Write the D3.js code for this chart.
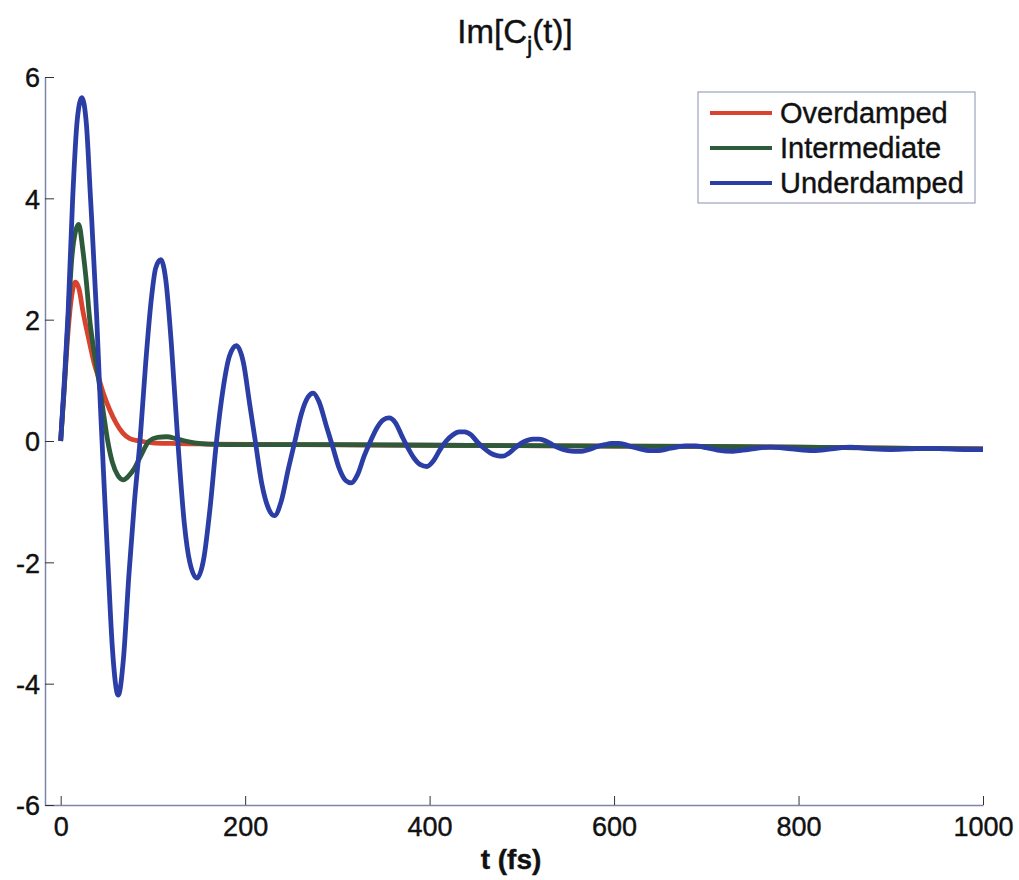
<!DOCTYPE html>
<html>
<head>
<meta charset="utf-8">
<script src="https://cdn.jsdelivr.net/npm/d3@7"></script>
<style>
  body { margin: 0; background: #fff; }
  text { font-family: "Liberation Sans", Arial, sans-serif; fill: #111; stroke: #111; stroke-width: 0.4px; }
</style>
</head>
<body>
<div class="chart-wrapper"></div>
<script>
// values: [t (fs), Im C_j]
var overdamped = [[0,0],[4,0.9],[8,1.8],[12,2.4],[16,2.62],[20,2.5],[24,2.15],[28,1.85],[32,1.57],[36,1.3],[40.6,1.07],[46,0.8],[53,0.52],[60,0.3],[67.5,0.13],[75,0.04],[86,0.0],[100,-0.03],[120,-0.04],[160,-0.05],[250,-0.06],[400,-0.07],[550,-0.08],[700,-0.09],[850,-0.11],[1000,-0.13]];

var intermediate = [[0,0],[4,0.9],[8,2.0],[12,3.0],[16,3.45],[19.6,3.57],[24,3.15],[28,2.6],[31.5,2.0],[36,1.5],[40.6,1.07],[46,0.5],[51,0.0],[56,-0.35],[62,-0.57],[67.8,-0.64],[74,-0.57],[80,-0.45],[86,-0.27],[96,0.0],[105,0.06],[115,0.07],[125,0.04],[135,0.0],[145,-0.03],[160,-0.05],[200,-0.06],[300,-0.06],[400,-0.07],[550,-0.08],[700,-0.09],[850,-0.11],[1000,-0.13]];

var underdamped = [[0,0],[4,1.0],[8,2.1],[13,4.0],[18,5.3],[23,5.66],[28,5.2],[32,4.1],[39,2.06],[43,0.6],[47,-0.7],[51.5,-2.1],[56,-3.4],[62.4,-4.19],[68,-3.6],[74,-2.2],[80,-1.0],[86,0],[92,1.25],[98,2.3],[103,2.85],[108.5,2.99],[114,2.65],[120,1.6],[127,0],[134,-1.35],[140,-2.0],[147.7,-2.26],[155,-1.95],[162,-1.1],[169,0],[176,0.85],[183,1.4],[190.5,1.57],[198,1.3],[205,0.6],[211,0],[218,-0.7],[225,-1.1],[231.8,-1.23],[239,-1.0],[247,-0.45],[254,0],[261,0.45],[268,0.72],[273.8,0.79],[280,0.65],[288,0.25],[295,-0.1],[302,-0.45],[309,-0.65],[315,-0.69],[322,-0.55],[329,-0.25],[336,0],[343,0.22],[350,0.35],[356,0.38],[363,0.3],[370,0.08],[376,-0.1],[383,-0.28],[390,-0.39],[397,-0.42],[404,-0.33],[411,-0.15],[418,0.0],[425,0.1],[432,0.15],[438,0.15],[445,0.1],[452,-0.02],[459,-0.12],[466,-0.2],[473,-0.24],[479.5,-0.25],[486,-0.2],[493,-0.11],[500,-0.03],[506,0.01],[512,0.03],[519,0.03],[526,0.0],[533,-0.06],[541,-0.12],[550,-0.16],[557,-0.17],[565,-0.17],[573,-0.14],[582,-0.09],[590,-0.06],[597,-0.04],[604.7,-0.04],[612,-0.06],[620,-0.1],[628,-0.13],[638,-0.16],[648,-0.16],[658,-0.13],[668,-0.1],[678,-0.08],[688,-0.08],[700,-0.11],[712,-0.15],[729,-0.17],[745,-0.14],[769,-0.1],[792,-0.13],[816,-0.16],[836,-0.13],[856,-0.1],[880,-0.13],[900,-0.14],[920,-0.13],[940,-0.12],[960,-0.13],[980,-0.14],[1000,-0.14]];

var seriesNames = ["Overdamped", "Intermediate", "Underdamped"];
var seriesColors = ["#d8432f", "#2c5a3b", "#2b3ea6"];
var xTicks = [0, 200, 400, 600, 800, 1000];
var yTicks = [-6, -4, -2, 0, 2, 4, 6];

var W = 1019, H = 880;
var margin = {top: 77, right: 36, bottom: 75, left: 45};
var width = W - margin.left - margin.right,
    height = H - margin.top - margin.bottom;

var svg = d3.select('.chart-wrapper').append("svg")
  .attr("width", W)
  .attr("height", H);

var x = d3.scaleLinear().domain([-17, 1000]).range([0, width]);
var y = d3.scaleLinear().domain([-6, 6]).range([height, 0]);

var g = svg.append("g")
  .attr("transform", "translate(" + margin.left + "," + margin.top + ")");

// axes, matlab style ticks pointing inward
var plain = function(d){ return String(d); };
var xAxis = g.append("g")
  .attr("transform", "translate(0," + height + ")")
  .call(d3.axisBottom(x).tickValues(xTicks).tickFormat(plain).tickSize(-9).tickPadding(12).tickSizeOuter(0));
var yAxis = g.append("g")
  .call(d3.axisLeft(y).tickValues(yTicks).tickFormat(plain).tickSize(-9).tickPadding(5).tickSizeOuter(0));

[xAxis, yAxis].forEach(function(a){
  a.select(".domain").attr("stroke", "#7d86aa").attr("stroke-width", 1.5);
  a.selectAll(".tick line").attr("stroke", "#333").attr("stroke-width", 1);
  a.selectAll(".tick text").style("font-size", "27px").attr("fill", "#111");
});
yAxis.selectAll(".tick text").attr("dy", "0.36em");
xAxis.selectAll(".tick text").attr("dy", "0.71em");

var line = d3.line()
  .x(function(d){ return x(d[0]); })
  .y(function(d){ return y(d[1]); })
  .curve(d3.curveMonotoneX);

[overdamped, intermediate, underdamped].forEach(function(s, i){
  g.append("path")
    .datum(s)
    .attr("fill", "none")
    .attr("stroke", seriesColors[i])
    .attr("stroke-width", 4.8)
    .attr("stroke-linejoin", "round")
    .attr("d", line);
});

// title with subscript
var title = svg.append("text")
  .attr("x", 515)
  .attr("y", 43)
  .attr("text-anchor", "middle")
  .style("font-size", "33px");
title.append("tspan").text("Im[C");
title.append("tspan").attr("dy", 10).style("font-size", "24px").text("j");
title.append("tspan").attr("dy", -10).text("(t)]");

svg.append("text")
  .attr("x", 511)
  .attr("y", 869)
  .attr("text-anchor", "middle")
  .style("font-size", "28px")
  .style("font-weight", "bold")
  .text("t (fs)");

// legend
var legend = svg.append("g").attr("transform", "translate(698,92)");
legend.append("rect")
  .attr("width", 277).attr("height", 111)
  .attr("fill", "#fff")
  .attr("stroke", "#8890b0").attr("stroke-width", 1);
seriesNames.forEach(function(n, i){
  var row = legend.append("g").attr("transform", "translate(0," + (21 + i * 35) + ")");
  row.append("line")
    .attr("x1", 12).attr("x2", 74)
    .attr("stroke", seriesColors[i]).attr("stroke-width", 4);
  row.append("text")
    .attr("x", 82).attr("dy", "0.36em")
    .style("font-size", "29px")
    .text(n);
});
</script>
</body>
</html>
